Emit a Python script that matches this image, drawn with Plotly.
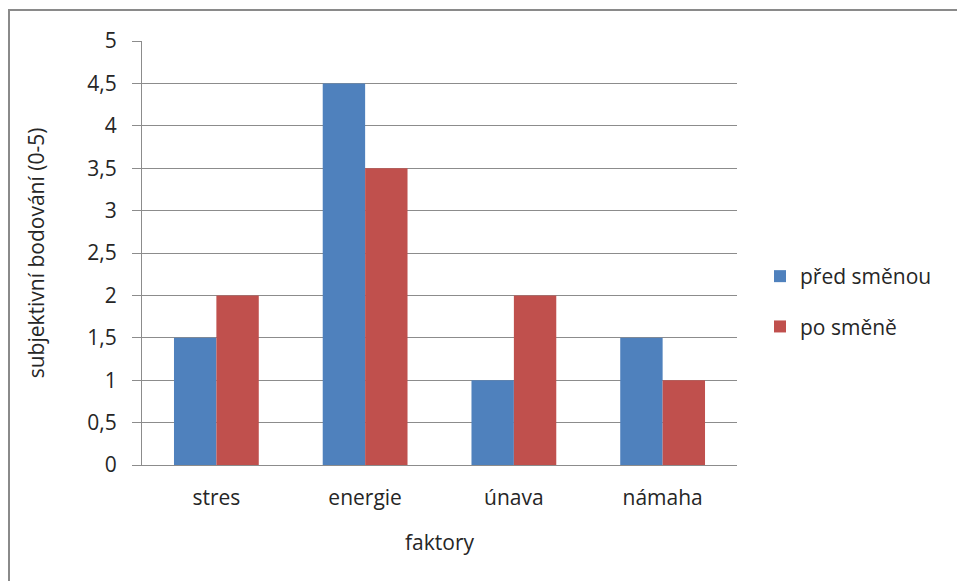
import plotly.graph_objects as go

# Subjective scores (0-5) before and after the shift
faktory = ["stres", "energie", "únava", "námaha"]
pred_smenou = [1.5, 4.5, 1.0, 1.5]
po_smene = [2.0, 3.5, 2.0, 1.0]

serie = [
    ("před směnou", pred_smenou, "#4F81BD"),
    ("po směně", po_smene, "#C0504D"),
]

FONT = "Open Sans, Carlito, Calibri, sans-serif"
FS = 21
TEXT = "#262626"
GRID = "#8C8C8C"

W, H = 957, 581
L, R, T, B = 142, 220, 41, 116
pw, ph = W - L - R, H - T - B

fig = go.Figure()
for name, vals, color in serie:
    fig.add_trace(go.Bar(
        x=faktory, y=vals, name=name, legendgroup=name,
        marker=dict(color=color, line=dict(width=0)),
    ))

# outer chart frame (left and top edges visible)
def px_x(p):
    return (p - L) / pw

def px_y(p):
    return (H - B - p) / ph

fig.add_shape(
    type="rect", xref="paper", yref="paper",
    x0=px_x(9), x1=px_x(W + 20), y0=px_y(W), y1=px_y(10),
    line=dict(color="#8A8A8A", width=2), fillcolor="rgba(0,0,0,0)",
    layer="below",
)

fig.update_layout(
    width=W, height=H,
    margin=dict(l=L, r=R, t=T, b=B),
    paper_bgcolor="white", plot_bgcolor="white",
    barmode="group", bargap=0.43, bargroupgap=0,
    separators=", ",
    font=dict(family=FONT, size=FS, color=TEXT),
    showlegend=True,
    legend=dict(
        x=px_x(760), y=px_y(256), xanchor="left", yanchor="top",
        font=dict(family=FONT, size=FS, color=TEXT),
        itemwidth=30, tracegroupgap=20,
        bgcolor="rgba(0,0,0,0)",
    ),
    xaxis=dict(
        title=dict(text="faktory", font=dict(family=FONT, size=FS, color=TEXT), standoff=25),
        showline=True, linecolor=GRID, linewidth=1,
        ticks="", ticklabelstandoff=14,
        showgrid=False, zeroline=False,
    ),
    yaxis=dict(
        title=dict(text="subjektivní bodování (0-5)", font=dict(family=FONT, size=FS, color=TEXT), standoff=36),
        range=[0, 5], dtick=0.5, tick0=0,
        showline=True, linecolor=GRID, linewidth=1,
        ticks="outside", ticklen=9, tickcolor=GRID, tickwidth=1,
        showgrid=True, gridcolor=GRID, gridwidth=1,
        zeroline=False, ticklabelstandoff=11,
    ),
)

fig.write_html("out.html")
